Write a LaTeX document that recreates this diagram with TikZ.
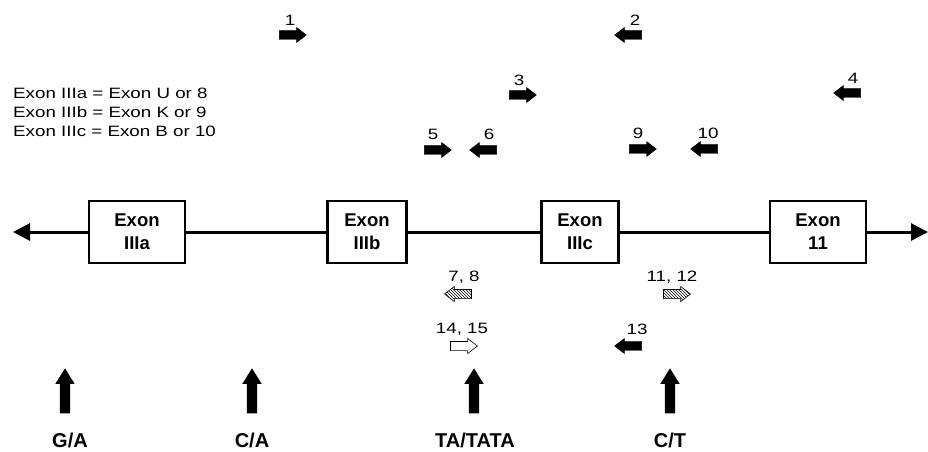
\documentclass[tikz,border=0pt]{standalone}
\usepackage{fontspec}
\setmainfont{Liberation Sans}
\newfontfamily\widesans[FakeStretch=1.25]{Liberation Sans}
\usetikzlibrary{arrows.meta,shapes.arrows,patterns}

\begin{document}
\begin{tikzpicture}[x=1pt,y=-1pt,
    exon/.style={draw, line width=2.7pt, fill=white, minimum height=62pt,
      inner sep=0pt, align=center, font=\bfseries\fontsize{18.5}{23}\selectfont},
    gene/.style={line width=3pt},
    tip/.style={-{Triangle[length=17pt,width=17pt]}},
    primer/.style={single arrow, draw=black, fill=black, line width=0.4pt,
      inner sep=0pt, text height=8.5pt, text depth=0pt, minimum height=27pt,
      single arrow head extend=3pt, single arrow tip angle=75},
    rev/.style={shape border rotate=180},
    hatched/.style={primer, fill=none, pattern=north west lines, line width=0.6pt},
    hollow/.style={primer, fill=white, line width=0.6pt},
    snp/.style={single arrow, fill=black, inner sep=0pt, text height=10pt,
      text depth=0pt, minimum height=45pt, single arrow head extend=4.5pt,
      single arrow tip angle=64, rotate=90},
    num/.style={font=\widesans\fontsize{15}{15}\selectfont, inner sep=0pt},
    allele/.style={font=\bfseries\fontsize{20}{20}\selectfont, inner sep=0pt,
      text depth=0pt}]
  \useasboundingbox (0,0) rectangle (928,451);

  % gene
  \coordinate (West) at (13,232);
  \coordinate (East) at (928,232);
  \node (IIIa) at (137,232) [exon, minimum width=96pt] {Exon\\IIIa};
  \node (IIIb) at (367,232) [exon, minimum width=79pt] {Exon\\IIIb};
  \node (IIIc) at (580,232) [exon, minimum width=77pt] {Exon\\IIIc};
  \node (E11) at (818,232) [exon, minimum width=96pt] {Exon\\11};
  \draw[gene, tip] (IIIa) -- (West);
  \draw[gene] (IIIa) -- (IIIb) (IIIb) -- (IIIc) (IIIc) -- (E11);
  \draw[gene, tip] (E11) -- (East);

  % key
  \node (key) at (13,88) [anchor=north west, align=left, inner sep=0pt,
    font=\widesans\fontsize{15}{19}\selectfont]
    {Exon IIIa = Exon U or 8\\Exon IIIb = Exon K or 9\\Exon IIIc = Exon B or 10};

  % primers
  \node (P1) at (290,35) [primer] {};
  \draw (290,20) node[num] (L1) {1};
  \node (P2) at (631,35) [primer, rev] {};
  \draw (635,20) node[num] (L2) {2};
  \node (P3) at (520,95) [primer] {};
  \draw (519,80) node[num] (L3) {3};
  \node (P4) at (850,93) [primer, rev] {};
  \draw (853,78) node[num] (L4) {4};
  \node (P5) at (435,150) [primer] {};
  \draw (433,134) node[num] (L5) {5};
  \node (P6) at (486,150) [primer, rev] {};
  \draw (489,134) node[num] (L6) {6};
  \node (P9) at (640,149) [primer] {};
  \draw (638,133) node[num] (L9) {9};
  \node (P10) at (707,149) [primer, rev] {};
  \draw (708,133) node[num] (L10) {10};
  \node (P78) at (461,294) [hatched, rev] {};
  \draw (464,277) node[num] (L78) {7, 8};
  \node (P1112) at (674,294) [hatched] {};
  \draw (672,277) node[num] (L1112) {11, 12};
  \node (P1415) at (461,346) [hollow] {};
  \draw (462,329) node[num] (L1415) {14, 15};
  \node (P13) at (631,346) [primer, rev] {};
  \draw (637,329) node[num] (L13) {13};

  % polymorphisms
  \node (S1) at (65,395) [snp] {};
  \draw (70,440) node[allele] (A1) {G/A};
  \node (S2) at (252,395) [snp] {};
  \draw (252,440) node[allele] (A2) {C/A};
  \node (S3) at (474,395) [snp] {};
  \draw (475,440) node[allele] (A3) {TA/TATA};
  \node (S4) at (670,395) [snp] {};
  \draw (670,440) node[allele] (A4) {C/T};
\end{tikzpicture}
\end{document}
